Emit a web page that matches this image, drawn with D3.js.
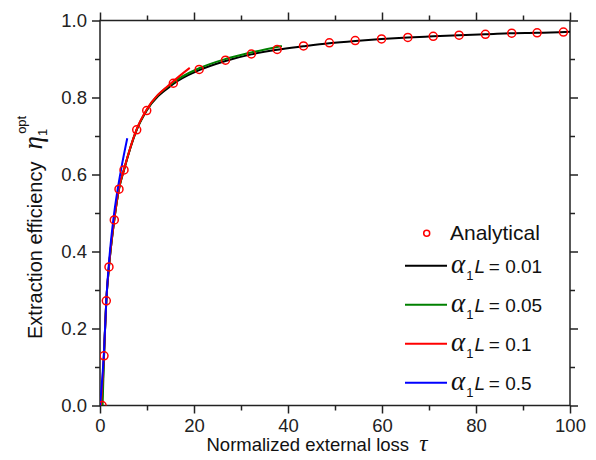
<!DOCTYPE html>
<html>
<head>
<meta charset="utf-8">
<script src="https://cdn.jsdelivr.net/npm/d3@7"></script>
<style>
  body { margin: 0; background: #fff; }
  svg { display: block; font-family: "Liberation Sans", Arial, sans-serif; }
</style>
</head>
<body>
<svg id="chart" width="596" height="460"></svg>
<script>
// analytical points (circles)
var tauAnalytical = [0.45, 0.85, 1.34, 1.91, 3.04, 4.04, 5.11, 7.81, 9.94, 15.6, 21.1, 26.7, 32.2, 37.7,
                     43.3, 48.8, 54.3, 59.9, 65.5, 70.9, 76.4, 82.0, 87.6, 93.0, 98.6];
var etaAnalytical = [0.0, 0.129, 0.272, 0.360, 0.482, 0.562, 0.612, 0.716, 0.766, 0.837, 0.873, 0.897, 0.913, 0.925,
                     0.934, 0.942, 0.948, 0.952, 0.956, 0.959, 0.962, 0.964, 0.967, 0.968, 0.970];

// simulated curves, one per alpha1*L
var tau001 = [0.4, 0.85, 1.34, 1.91, 3.04, 4.04, 5.11, 7.81, 9.94, 15.6, 21.1, 26.7, 32.2, 37.7, 43.3, 48.8, 54.3, 59.9, 65.5, 70.9, 76.4, 82.0, 87.6, 93.0, 100];
var eta001 = [0.0, 0.129, 0.272, 0.360, 0.482, 0.562, 0.612, 0.716, 0.766, 0.835, 0.871, 0.895, 0.912, 0.924, 0.933, 0.941, 0.947, 0.952, 0.956, 0.959, 0.962, 0.964, 0.967, 0.968, 0.971];
var tau005 = [0.55, 0.85, 1.34, 1.91, 3.04, 4.04, 5.11, 7.81, 9.94, 15.6, 21.1, 26.7, 32.2, 38.7];
var eta005 = [0.0, 0.125, 0.27, 0.36, 0.482, 0.562, 0.613, 0.717, 0.768, 0.839, 0.876, 0.900, 0.917, 0.934];
var tau01 = [0.2, 0.85, 1.34, 1.91, 3.04, 4.04, 5.11, 7.81, 9.94, 15.6, 19.1];
var eta01 = [0.0, 0.135, 0.272, 0.362, 0.484, 0.565, 0.614, 0.718, 0.769, 0.842, 0.877];
var tau05 = [0.0, 0.85, 1.34, 1.9, 2.83, 3.76, 4.47, 5.8];
var eta05 = [0.0, 0.14, 0.272, 0.37, 0.482, 0.562, 0.612, 0.694];

var alphaLabels = ["0.01", "0.05", "0.1", "0.5"];
var lineColors = ["#000000", "#008000", "#ff0000", "#0000ff"];

var xTicks = [0, 20, 40, 60, 80, 100];
var xMinor = [10, 30, 50, 70, 90];
var yTicks = [0, 0.2, 0.4, 0.6, 0.8, 1.0];
var yMinor = [0.1, 0.3, 0.5, 0.7, 0.9];

var curves = [
  d3.zip(tau001, eta001),
  d3.zip(tau005, eta005),
  d3.zip(tau01, eta01),
  d3.zip(tau05, eta05)
];

var plotL = 100, plotR = 570, plotT = 20.5, plotB = 405.5;
var axisCol = "#222";

var svg = d3.select("#chart");

var x = d3.scaleLinear().domain([0, 100]).range([plotL, plotR]);
var y = d3.scaleLinear().domain([0, 1]).range([plotB, plotT]);

svg.append("defs").append("clipPath").attr("id", "plotclip")
  .append("rect")
    .attr("x", plotL).attr("y", plotT)
    .attr("width", plotR - plotL).attr("height", plotB - plotT);

function styleAxis(g) {
  g.selectAll(".domain").remove();
  g.selectAll("line").attr("stroke", axisCol).attr("stroke-width", 1.5);
  g.selectAll("text").attr("fill", axisCol)
    .style("font-size", "18.5px")
    .style("font-family", "'Liberation Sans', Arial, sans-serif");
}

// bottom axis with labels
svg.append("g")
    .attr("transform", `translate(0, ${plotB})`)
    .call(d3.axisBottom(x).tickValues(xTicks).tickSize(8).tickPadding(5).tickFormat(d3.format("d")))
    .call(styleAxis);
svg.append("g")
    .attr("transform", `translate(0, ${plotB})`)
    .call(d3.axisBottom(x).tickValues(xMinor).tickSize(5).tickFormat(""))
    .call(styleAxis);
// top axis
svg.append("g")
    .attr("transform", `translate(0, ${plotT})`)
    .call(d3.axisTop(x).tickValues(xTicks).tickSize(8).tickFormat(""))
    .call(styleAxis);
svg.append("g")
    .attr("transform", `translate(0, ${plotT})`)
    .call(d3.axisTop(x).tickValues(xMinor).tickSize(5).tickFormat(""))
    .call(styleAxis);
// left axis
svg.append("g")
    .attr("transform", `translate(${plotL}, 0)`)
    .call(d3.axisLeft(y).tickValues(yTicks).tickSize(8).tickPadding(5).tickFormat(d3.format(".1f")))
    .call(styleAxis);
svg.append("g")
    .attr("transform", `translate(${plotL}, 0)`)
    .call(d3.axisLeft(y).tickValues(yMinor).tickSize(5).tickFormat(""))
    .call(styleAxis);
// right axis
svg.append("g")
    .attr("transform", `translate(${plotR}, 0)`)
    .call(d3.axisRight(y).tickValues(yTicks).tickSize(8).tickFormat(""))
    .call(styleAxis);
svg.append("g")
    .attr("transform", `translate(${plotR}, 0)`)
    .call(d3.axisRight(y).tickValues(yMinor).tickSize(5).tickFormat(""))
    .call(styleAxis);

// frame
svg.append("rect")
    .attr("x", plotL).attr("y", plotT)
    .attr("width", plotR - plotL).attr("height", plotB - plotT)
    .attr("fill", "none")
    .attr("stroke", axisCol)
    .attr("stroke-width", 1.5);

// curves
var line = d3.line()
    .x(function(d) { return x(d[0]); })
    .y(function(d) { return y(d[1]); })
    .curve(d3.curveMonotoneX);

svg.append("g").attr("clip-path", "url(#plotclip)")
  .selectAll("path.curve")
  .data(curves)
  .enter()
  .append("path")
    .attr("class", "curve")
    .attr("d", line)
    .attr("fill", "none")
    .attr("stroke", function(d, i) { return lineColors[i]; })
    .attr("stroke-width", 2);

// analytical circles
svg.append("g").attr("clip-path", "url(#plotclip)")
  .selectAll("circle")
  .data(d3.zip(tauAnalytical, etaAnalytical))
  .enter()
  .append("circle")
    .attr("cx", function(d) { return x(d[0]); })
    .attr("cy", function(d) { return y(d[1]); })
    .attr("r", 4)
    .attr("fill", "none")
    .attr("stroke", "#ff0000")
    .attr("stroke-width", 1.5);

// legend
var legend = svg.append("g");
legend.append("circle")
    .attr("cx", 426.7).attr("cy", 233.3).attr("r", 3)
    .attr("fill", "none").attr("stroke", "#ff0000").attr("stroke-width", 1.5);
legend.append("text")
    .attr("x", 450).attr("y", 240)
    .style("font-size", "21px")
    .attr("fill", "#111")
    .text("Analytical");

var rows = legend.selectAll("g.row")
  .data(alphaLabels)
  .enter()
  .append("g")
    .attr("class", "row")
    .attr("transform", function(d, i) { return `translate(0, ${265.7 + i * 39})`; });

rows.append("line")
    .attr("x1", 405).attr("x2", 447)
    .attr("stroke", function(d, i) { return lineColors[i]; })
    .attr("stroke-width", 2);

var lt = rows.append("text")
    .attr("x", 451).attr("y", 7)
    .attr("fill", "#111");
lt.append("tspan")
    .style("font-family", "'Liberation Serif', 'Times New Roman', serif")
    .style("font-style", "italic")
    .style("font-size", "27px")
    .text("\u03b1");
lt.append("tspan")
    .attr("dy", 7).attr("dx", 1)
    .style("font-size", "13px")
    .text("1");
lt.append("tspan")
    .attr("dy", -7).attr("dx", 1)
    .style("font-style", "italic")
    .style("font-size", "19px")
    .text("L");
lt.append("tspan")
    .style("font-size", "19px")
    .text(function(d) { return "\u2009= " + d; });

// x axis title
var xt = svg.append("text")
    .attr("x", 206.5).attr("y", 451)
    .attr("fill", "#111")
    .style("font-size", "18.5px");
xt.append("tspan").text("Normalized external loss\u00a0\u00a0");
xt.append("tspan")
    .style("font-family", "'Liberation Serif', 'Times New Roman', serif")
    .style("font-style", "italic")
    .style("font-size", "23px")
    .text("\u03c4");

// y axis title
var yt = svg.append("text")
    .attr("transform", "translate(42, 339) rotate(-90)")
    .attr("fill", "#111")
    .style("font-size", "20px");
yt.append("tspan").text("Extraction efficiency");
yt.append("tspan")
    .attr("dx", 12)
    .style("font-family", "'Liberation Serif', 'Times New Roman', serif")
    .style("font-style", "italic")
    .style("font-size", "27px")
    .text("\u03b7");
yt.append("tspan")
    .attr("dy", 5)
    .style("font-size", "13px")
    .text("1");
yt.append("tspan")
    .attr("dx", -5).attr("dy", -21)
    .style("font-size", "13px")
    .text("opt");
</script>
</body>
</html>
